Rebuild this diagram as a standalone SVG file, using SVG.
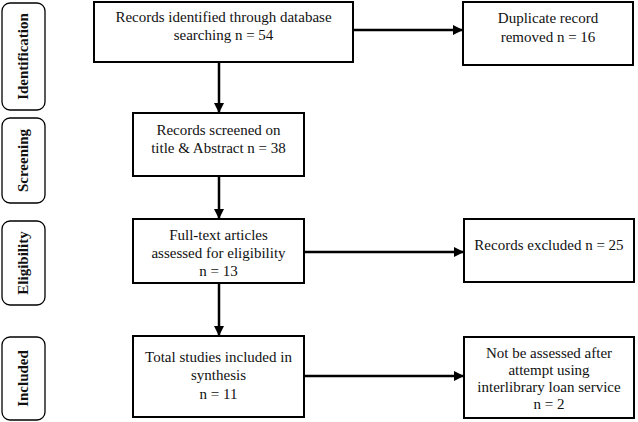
<svg xmlns="http://www.w3.org/2000/svg" width="638" height="422" viewBox="0 0 638 422">
<style>
.box{fill:#fff;stroke:#000;stroke-width:2}
.stage{fill:#fff;stroke:#000;stroke-width:1.3}
text{font-family:'Liberation Serif','Times New Roman','DejaVu Serif',serif;fill:#111;text-anchor:middle}
.t{font-size:15px}
.s{font-size:15px;font-weight:bold}
.c{stroke:#000;stroke-width:2.5;fill:none;marker-end:url(#ah)}
</style>
<defs>
<marker id="ah" viewBox="0 0 10 10" refX="10" refY="5" markerWidth="4" markerHeight="4" orient="auto" markerUnits="strokeWidth">
<path d="M0,0 L10,5 L0,10 Z" fill="#000"/>
</marker>
</defs>
<rect width="638" height="422" fill="#fff"/>
<g id="stage-identification"><rect class="stage" x="2" y="3" width="43" height="107" rx="8"/><text class="s" transform="translate(28,56.5) rotate(-90)">Identification</text></g>
<g id="stage-screening"><rect class="stage" x="2" y="118" width="43" height="85" rx="8"/><text class="s" transform="translate(28,160.5) rotate(-90)">Screening</text></g>
<g id="stage-eligibility"><rect class="stage" x="2" y="221" width="43" height="84" rx="8"/><text class="s" transform="translate(28,263) rotate(-90)">Eligibility</text></g>
<g id="stage-included"><rect class="stage" x="2" y="337" width="43" height="83" rx="8"/><text class="s" transform="translate(28,378.5) rotate(-90)">Included</text></g>
<g id="connectors">
<line class="c" x1="219" y1="62" x2="219" y2="113"/>
<line class="c" x1="353" y1="30" x2="463" y2="30"/>
<line class="c" x1="219" y1="176" x2="219" y2="219"/>
<line class="c" x1="304" y1="252" x2="464" y2="252"/>
<line class="c" x1="219" y1="283" x2="219" y2="336"/>
<line class="c" x1="304" y1="376" x2="464" y2="376"/>
</g>
<g id="identified"><rect class="box" x="94" y="2" width="259" height="60"/><text class="t" x="223.5" y="22">Records identified through database</text><text class="t" x="223.5" y="40">searching n = 54</text></g>
<g id="duplicates"><rect class="box" x="463" y="2" width="170" height="63"/><text class="t" x="548" y="23">Duplicate record</text><text class="t" x="548" y="42">removed n = 16</text></g>
<g id="screened"><rect class="box" x="133" y="113" width="171" height="63"/><text class="t" x="218.5" y="135">Records screened on</text><text class="t" x="218.5" y="153">title &amp; Abstract n = 38</text></g>
<g id="fulltext"><rect class="box" x="133" y="219" width="171" height="64"/><text class="t" x="218.5" y="240">Full-text articles</text><text class="t" x="218.5" y="258">assessed for eligibility</text><text class="t" x="218.5" y="276">n = 13</text></g>
<g id="excluded"><rect class="box" x="464" y="219" width="170" height="63"/><text class="t" x="549" y="250">Records excluded n = 25</text></g>
<g id="included"><rect class="box" x="133" y="336" width="171" height="81"/><text class="t" x="218.5" y="362">Total studies included in</text><text class="t" x="218.5" y="380">synthesis</text><text class="t" x="218.5" y="399">n = 11</text></g>
<g id="notassessed"><rect class="box" x="464" y="337" width="170" height="81"/><text class="t" x="549" y="358">Not be assessed after</text><text class="t" x="549" y="375">attempt using</text><text class="t" x="549" y="392">interlibrary loan service</text><text class="t" x="549" y="409">n = 2</text></g>
</svg>
